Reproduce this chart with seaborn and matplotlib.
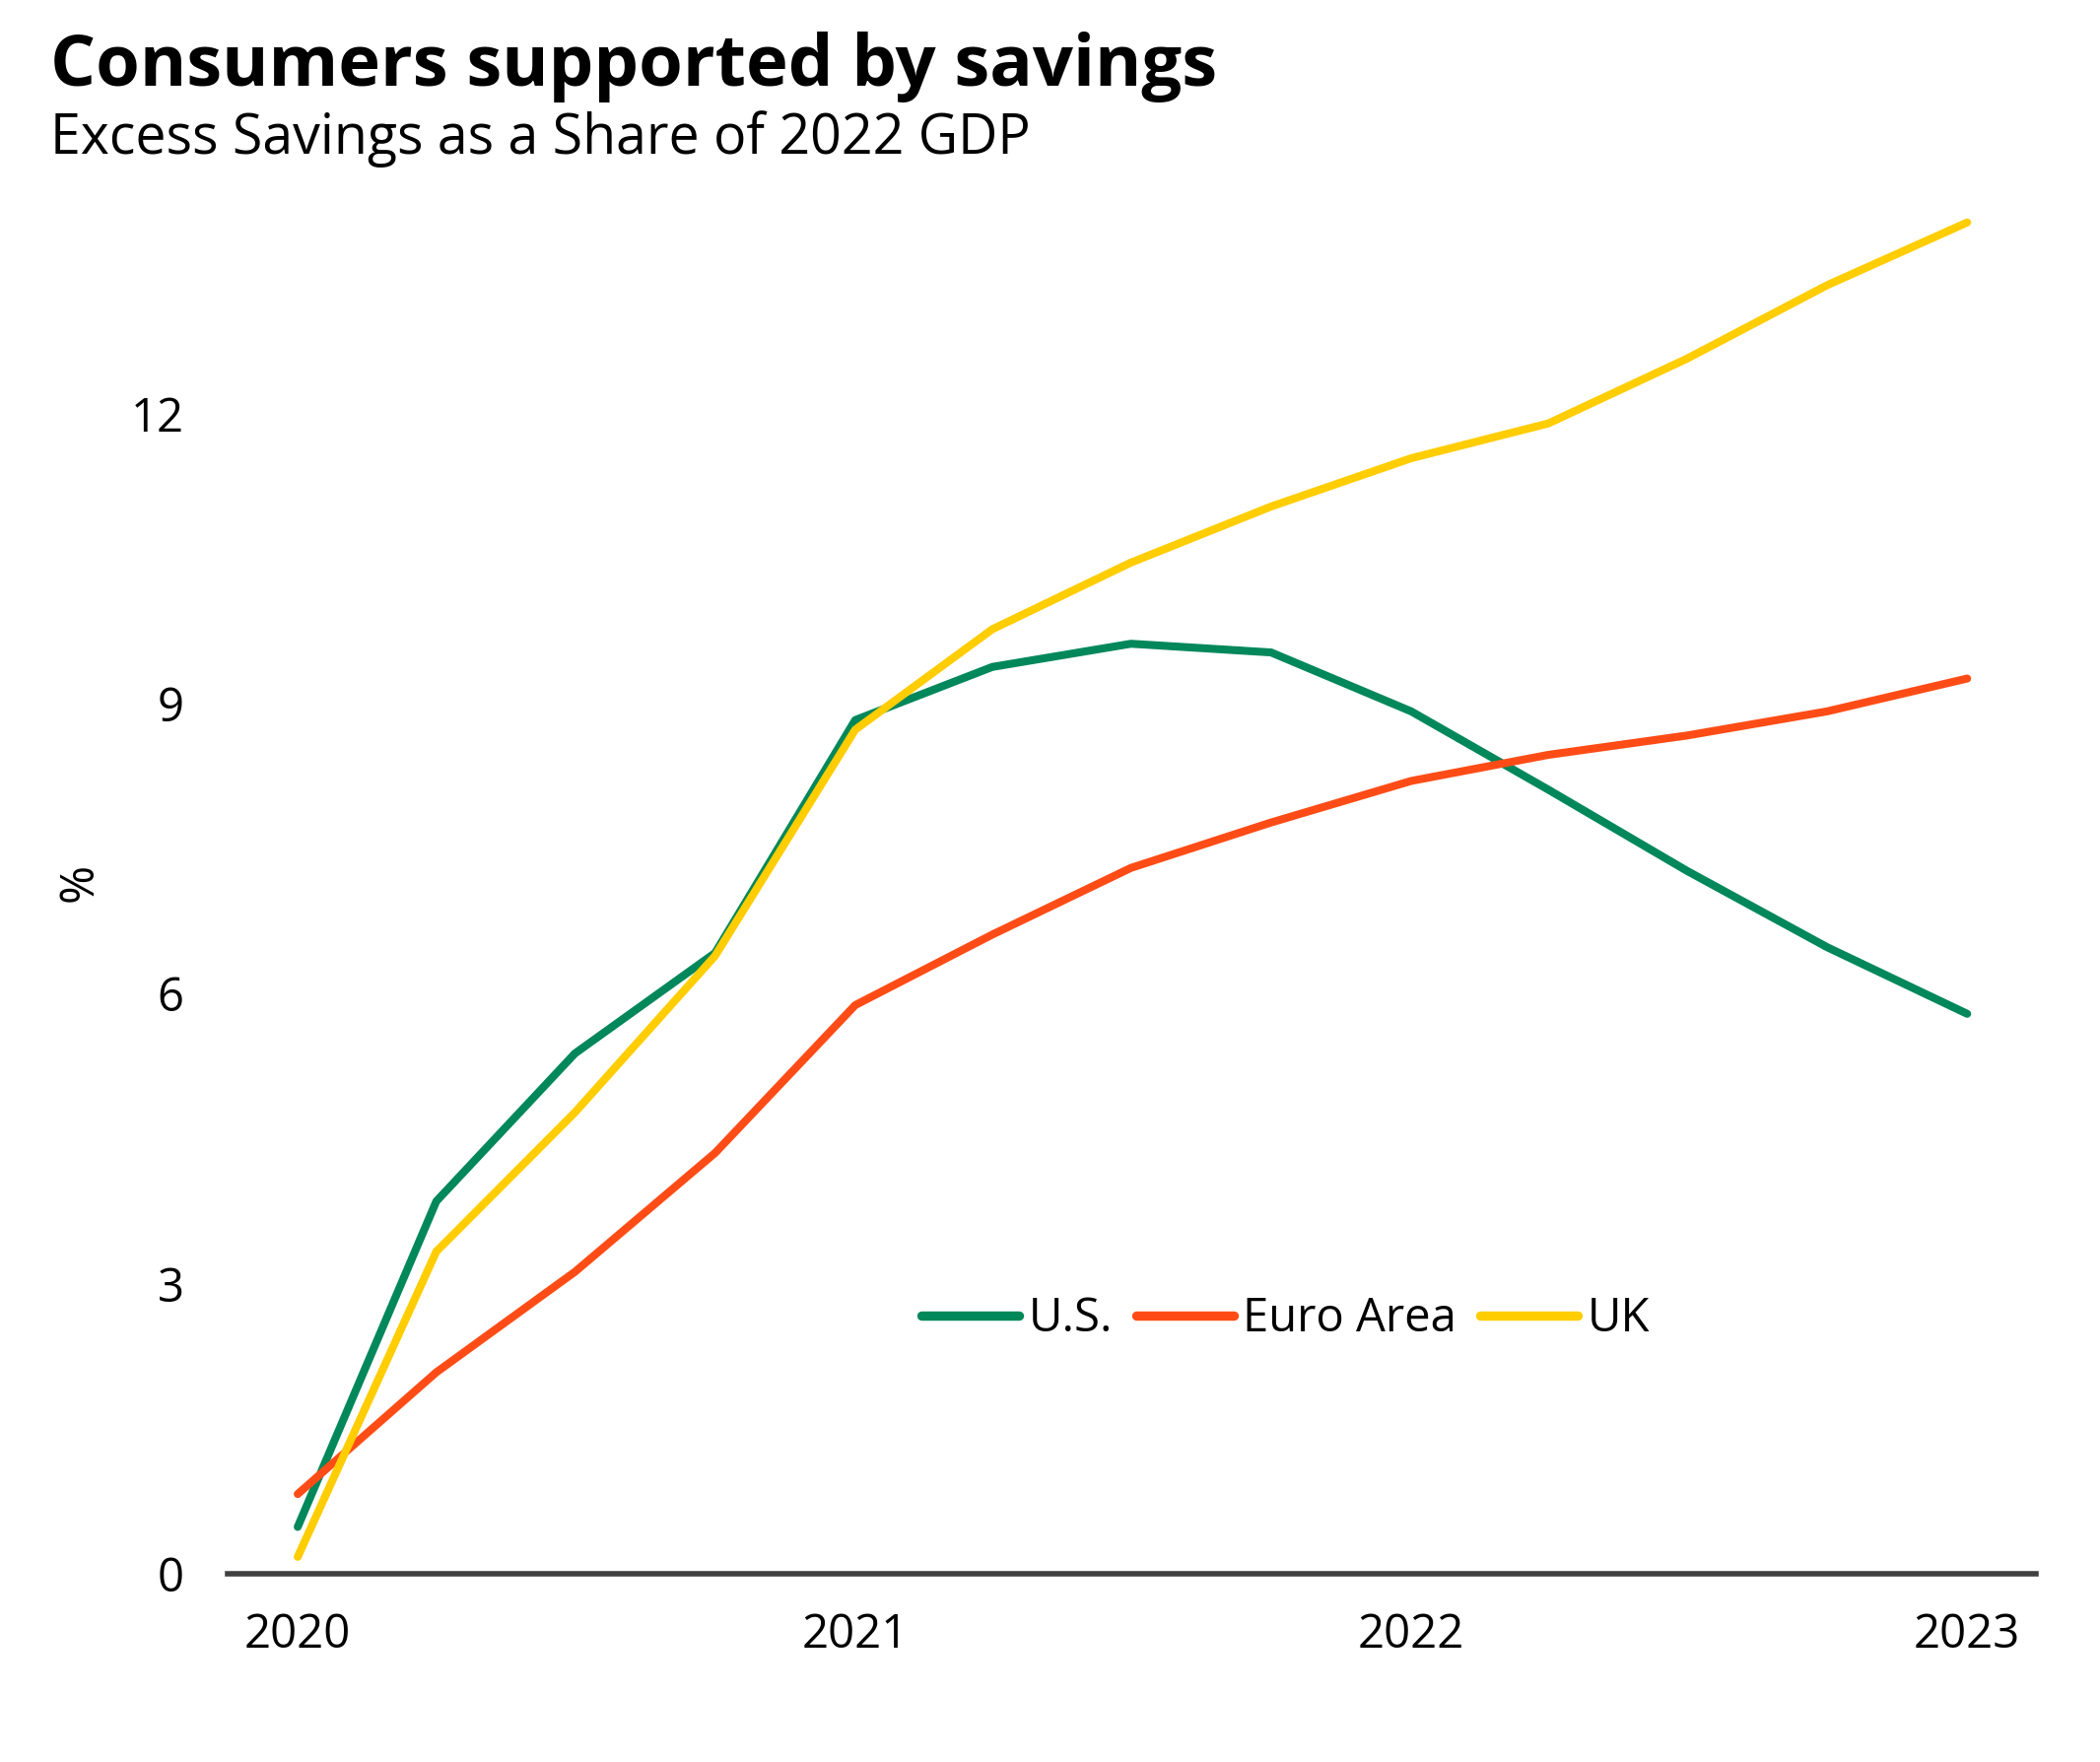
import pandas as pd
import matplotlib.pyplot as plt
import matplotlib.dates as mdates
import seaborn as sns

# quarterly excess savings, % of 2022 GDP
quarters = ["2020-01-01", "2020-04-01", "2020-07-01", "2020-10-01",
            "2021-01-01", "2021-04-01", "2021-07-01", "2021-10-01",
            "2022-01-01", "2022-04-01", "2022-07-01", "2022-10-01",
            "2023-01-01"]
us = [0.48, 3.85, 5.38, 6.42, 8.83, 9.38, 9.62, 9.53, 8.92, 8.11, 7.27, 6.48, 5.79]
euro_area = [0.82, 2.08, 3.12, 4.35, 5.88, 6.61, 7.30, 7.77, 8.20, 8.47, 8.67, 8.92, 9.26]
uk = [0.17, 3.33, 4.77, 6.39, 8.73, 9.77, 10.46, 11.04, 11.54, 11.90, 12.57, 13.33, 13.98]

series_names = ["U.S.", "Euro Area", "UK"]
colors = {"U.S.": "#00875A", "Euro Area": "#FF4C16", "UK": "#FFCD00"}

dates = pd.to_datetime(quarters)
df = pd.concat([
    pd.DataFrame({"date": dates, "value": us, "series": "U.S."}),
    pd.DataFrame({"date": dates, "value": euro_area, "series": "Euro Area"}),
    pd.DataFrame({"date": dates, "value": uk, "series": "UK"}),
]).reset_index(drop=True)

sns.set_theme(style="white")
plt.rcParams["font.family"] = ["Open Sans", "DejaVu Sans"]
plt.rcParams["text.color"] = "black"

fig = plt.figure(figsize=(10.655, 8.94), dpi=200)
ax = fig.add_axes([0.1084, 0.1071, 0.861, 0.7842])

sns.lineplot(data=df, x="date", y="value", hue="series", hue_order=series_names,
             palette=colors, linewidth=2.9, ax=ax)

ax.set_ylim(0, 14.3)
ax.set_yticks([0, 3, 6, 9, 12])
ax.set_xlim(pd.Timestamp("2019-11-16"), pd.Timestamp("2023-02-15"))
ax.xaxis.set_major_locator(mdates.YearLocator())
ax.xaxis.set_major_formatter(mdates.DateFormatter("%Y"))
ax.tick_params(axis="both", length=0, labelsize=17, colors="black")
ax.tick_params(axis="x", pad=14)
ax.tick_params(axis="y", pad=16)
ax.set_xlabel("")
ax.set_ylabel("%", fontsize=17, labelpad=10, color="black")

for side in ["top", "right", "left"]:
    ax.spines[side].set_visible(False)
ax.spines["bottom"].set_color("#404040")
ax.spines["bottom"].set_linewidth(2)

leg = ax.legend(loc="center", bbox_to_anchor=(0.585, 0.184), ncol=3, frameon=False,
                fontsize=17, handlelength=2.1, handletextpad=0.2, columnspacing=0.5)
for line in leg.get_lines():
    line.set_linewidth(3.4)
    line.set_solid_capstyle("round")
for text in leg.get_texts():
    text.set_color("black")

fig.text(0.024, 0.962, "Consumers supported by savings", fontsize=26,
         fontweight="bold", va="center", ha="left", color="black")
fig.text(0.024, 0.921, "Excess Savings as a Share of 2022 GDP", fontsize=20,
         va="center", ha="left", color="black")

fig.savefig("out.png", dpi=200)
